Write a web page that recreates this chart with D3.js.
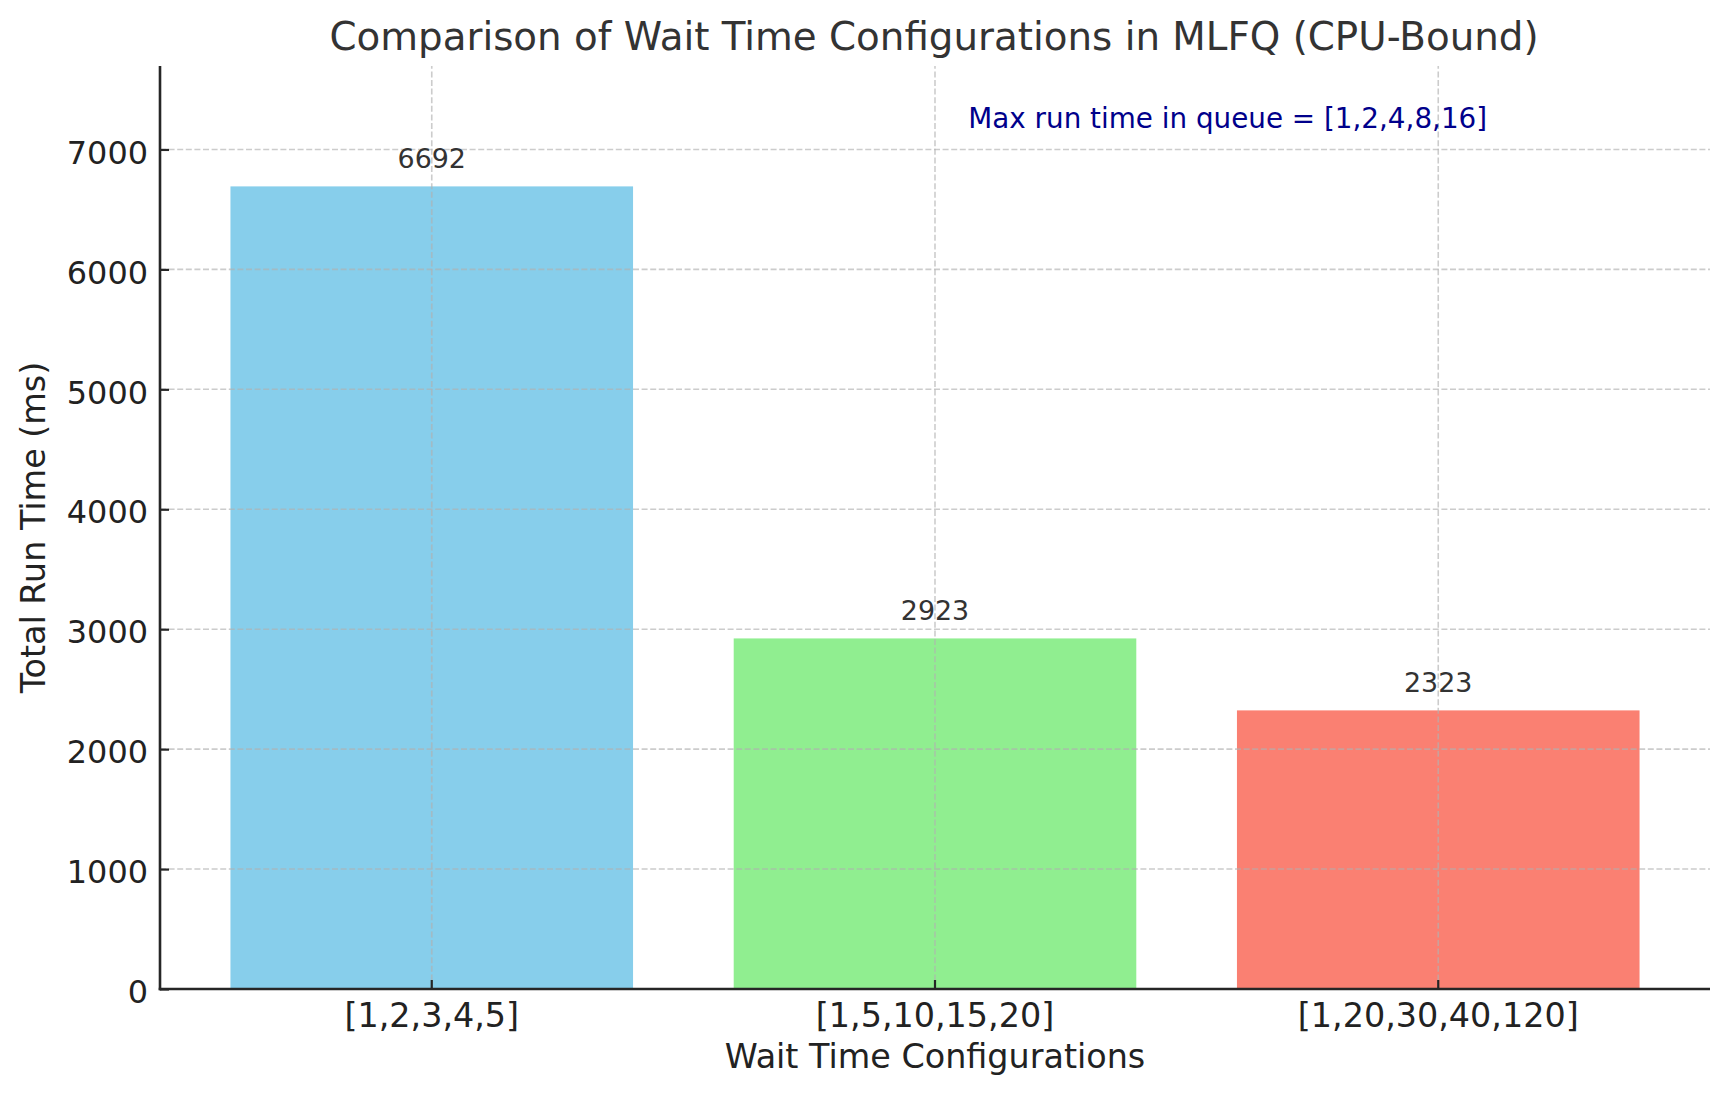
<!DOCTYPE html>
<html>
<head>
<meta charset="utf-8">
<script src="https://cdn.jsdelivr.net/npm/d3@7"></script>
<style>
  html, body { margin: 0; padding: 0; background: #fff; }
  svg { display: block; font-family: "DejaVu Sans", sans-serif; }
</style>
</head>
<body>
<svg id="chart" width="1728" height="1097"></svg>
<script>
const categories = ["[1,2,3,4,5]", "[1,5,10,15,20]", "[1,20,30,40,120]"];
const values = [6692, 2923, 2323];
const barColors = ["#87CEEB", "#90EE90", "#FA8072"];
const yTicks = [0, 1000, 2000, 3000, 4000, 5000, 6000, 7000];
const titleText = "Comparison of Wait Time Configurations in MLFQ (CPU-Bound)";
const xLabelText = "Wait Time Configurations";
const yLabelText = "Total Run Time (ms)";
const noteText = "Max run time in queue = [1,2,4,8,16]";

const svg = d3.select("#chart");
const margin = {left: 160, right: 18, top: 66, bottom: 108};
const W = 1728, H = 1097;
const x0 = margin.left, x1 = W - margin.right;
const y0 = H - margin.bottom, y1 = margin.top;

const x = d3.scaleBand().domain(categories).range([x0, x1])
  .paddingInner(0.2).paddingOuter(0.14);
const y = d3.scaleLinear().domain([0, d3.max(values) * 1.15]).range([y0, y1]);

// Bars
svg.append("g").selectAll("rect").data(values).join("rect")
  .attr("x", (d, i) => x(categories[i]))
  .attr("width", x.bandwidth())
  .attr("y", d => y(d))
  .attr("height", d => y(0) - y(d))
  .attr("fill", (d, i) => barColors[i]);

// Grid (above bars)
const grid = svg.append("g");
grid.selectAll("line.h").data(yTicks.filter(t => t > 0)).join("line")
  .attr("class", "h")
  .attr("x1", x0).attr("x2", x1)
  .attr("y1", d => y(d)).attr("y2", d => y(d));
grid.selectAll("line.v").data(categories).join("line")
  .attr("class", "v")
  .attr("x1", d => x(d) + x.bandwidth() / 2).attr("x2", d => x(d) + x.bandwidth() / 2)
  .attr("y1", y0).attr("y2", y1);
grid.selectAll("line")
  .attr("stroke", "#b0b0b0")
  .attr("stroke-opacity", 0.65)
  .attr("stroke-width", 1.6)
  .attr("stroke-dasharray", "6,2.6");

// Value labels
svg.append("g").selectAll("text").data(values).join("text")
  .attr("x", (d, i) => x(categories[i]) + x.bandwidth() / 2)
  .attr("y", d => y(d) - 18)
  .attr("text-anchor", "middle")
  .attr("font-size", 26.9)
  .attr("fill", "#333")
  .text(d => d);

// Axes
const yAxis = d3.axisLeft(y).tickValues(yTicks).tickFormat(d3.format("d"))
  .tickSize(-9).tickPadding(12);
const gy = svg.append("g").attr("transform", `translate(${x0},0)`).call(yAxis);
gy.select(".domain").remove();
gy.selectAll(".tick line").attr("stroke", "#262626").attr("stroke-width", 2.2);
gy.selectAll(".tick text").attr("font-size", 31.9).attr("fill", "#222")
  .attr("font-family", "DejaVu Sans").attr("dy", "0.43em");

const xAxis = d3.axisBottom(x).tickSize(-9).tickPadding(15);
const gx = svg.append("g").attr("transform", `translate(0,${y0})`).call(xAxis);
gx.select(".domain").remove();
gx.selectAll(".tick line").attr("stroke", "#262626").attr("stroke-width", 2.2);
gx.selectAll(".tick text").attr("font-size", 33.4).attr("fill", "#222")
  .attr("font-family", "DejaVu Sans").attr("dy", "0.7em");

// Spines
svg.append("line").attr("x1", x0).attr("x2", x0).attr("y1", y1).attr("y2", y0 + 1.3)
  .attr("stroke", "#262626").attr("stroke-width", 2.6);
svg.append("line").attr("x1", x0 - 1.3).attr("x2", x1).attr("y1", y0).attr("y2", y0)
  .attr("stroke", "#262626").attr("stroke-width", 2.6);

// Title
svg.append("text").attr("x", (x0 + x1) / 2 - 1).attr("y", 50)
  .attr("text-anchor", "middle").attr("font-size", 38.8).attr("fill", "#333")
  .text(titleText);

// Axis labels
svg.append("text").attr("x", (x0 + x1) / 2).attr("y", 1068)
  .attr("text-anchor", "middle").attr("font-size", 33.4).attr("fill", "#222")
  .text(xLabelText);
svg.append("text").attr("transform", `translate(45,${(y0 + y1) / 2}) rotate(-90)`)
  .attr("text-anchor", "middle").attr("font-size", 33.4).attr("fill", "#222")
  .text(yLabelText);

// Annotation
svg.append("text")
  .attr("x", x0 + (x1 - x0) * 0.5215)
  .attr("y", y(7183))
  .attr("text-anchor", "start").attr("font-size", 27.8).attr("fill", "#00008B")
  .text(noteText);
</script>
</body>
</html>
